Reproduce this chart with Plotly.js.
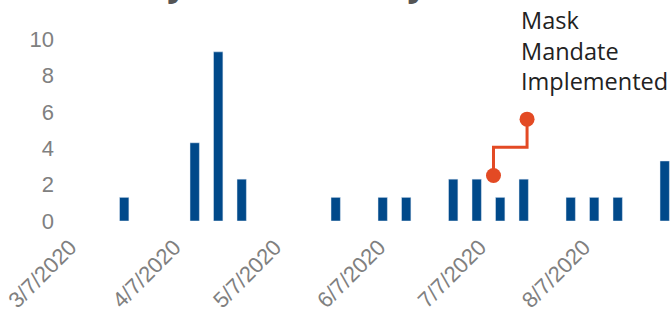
<!DOCTYPE html>
<html>
<head>
<meta charset="utf-8">
<script src="https://cdn.plot.ly/plotly-3.0.1.min.js"></script>
<style>
  html, body { margin: 0; padding: 0; background: #ffffff; overflow: hidden; }
  #chart { width: 671px; height: 313px; }
</style>
</head>
<body>
<div id="chart"></div>
<script>
// Weekly bars (week dates and values)
const weekDates = [
  '2020-03-21', '2020-04-11', '2020-04-18', '2020-04-25', '2020-05-23',
  '2020-06-06', '2020-06-13', '2020-06-27', '2020-07-04', '2020-07-11',
  '2020-07-18', '2020-08-01', '2020-08-08', '2020-08-15', '2020-08-29'
];
const weekCases = [1.3, 4.3, 9.3, 2.3, 1.3, 1.3, 1.3, 2.3, 2.3, 1.3, 2.3, 1.3, 1.3, 1.3, 3.3];

// Mask mandate marker (two points joined by a stepped line)
const maskDates = ['2020-07-09', '2020-07-19'];
const maskValues = [2.5, 5.6];
const maskLabel = 'Mask<br>Mandate<br>Implemented';

const chartTitle = 'Daily New Cases by Week';
const xRange = ['2020-03-01 06:45', '2020-08-30 21:00'];
const yRange = [0, 10.5];

const traces = [
  {
    type: 'bar',
    x: weekDates,
    y: weekCases,
    marker: { color: '#00498a', line: { color: '#E5ECF6', width: 0.5 } },
    hoverinfo: 'x+y',
    showlegend: false
  },
  {
    type: 'scatter',
    mode: 'lines+markers',
    x: maskDates,
    y: maskValues,
    line: { color: '#e34a24', width: 3, shape: 'vhv' },
    marker: { color: '#e34a24', size: 15 },
    showlegend: false,
    cliponaxis: false
  }
];

const layout = {
  width: 671,
  height: 313,
  margin: { l: 58, r: 0, t: 30, b: 92, pad: 0 },
  paper_bgcolor: '#ffffff',
  plot_bgcolor: '#ffffff',
  bargap: 0.6,
  showlegend: false,
  title: {
    text: chartTitle,
    font: { family: 'Open Sans', size: 34, color: '#555555', weight: 'bold' },
    x: 0.47,
    xanchor: 'center',
    xref: 'container',
    yref: 'container',
    y: 1,
    yanchor: 'bottom',
    pad: { b: 4, t: 0, l: 0, r: 0 }
  },
  xaxis: {
    type: 'date',
    range: xRange,
    tick0: '2020-03-07',
    dtick: 'M1',
    tickformat: '%-m/%-d/%Y',
    tickangle: -45,
    tickfont: { family: 'Arial', size: 22, color: '#808080' },
    ticklabelstandoff: 8,
    ticklabelshift: -7,
    showgrid: false,
    zeroline: false,
    showline: false,
    ticks: ''
  },
  yaxis: {
    range: yRange,
    dtick: 2,
    tick0: 0,
    tickfont: { family: 'Arial', size: 22, color: '#808080' },
    ticklabelstandoff: 3,
    showgrid: false,
    zeroline: false,
    showline: false,
    ticks: ''
  },
  annotations: [
    {
      x: maskDates[1],
      y: maskValues[1],
      xref: 'x',
      yref: 'y',
      text: maskLabel,
      showarrow: false,
      xanchor: 'left',
      yanchor: 'bottom',
      align: 'left',
      xshift: -8,
      yshift: 20,
      font: { family: 'Open Sans', size: 23.5, color: '#222222' }
    }
  ]
};

Plotly.newPlot('chart', traces, layout, { displayModeBar: false, staticPlot: true });
</script>
</body>
</html>
